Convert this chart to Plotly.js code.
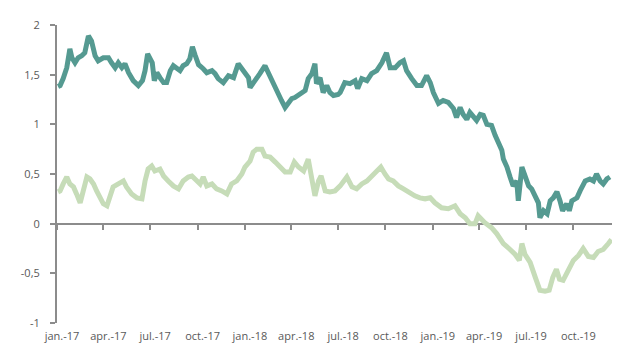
<!DOCTYPE html>
<html>
<head>
<meta charset="utf-8">
<script src="https://cdn.plot.ly/plotly-3.0.1.min.js"></script>
<style>
  html, body { margin: 0; padding: 0; background: #fff; }
  #chart { width: 617px; height: 347px; }
</style>
</head>
<body>
<div id="chart"></div>
<script>
// Upper series (dark teal)
const upperDates = [
  '2017-01-03','2017-01-07','2017-01-13','2017-01-20','2017-01-26','2017-01-30','2017-02-05','2017-02-11',
  '2017-02-18','2017-02-24','2017-03-03','2017-03-09','2017-03-16','2017-03-22','2017-04-01','2017-04-11',
  '2017-04-17','2017-04-24','2017-04-30','2017-05-07','2017-05-13','2017-05-20','2017-05-29','2017-06-08',
  '2017-06-16','2017-06-21','2017-06-26','2017-07-01','2017-07-05','2017-07-09','2017-07-14','2017-07-20',
  '2017-07-27','2017-08-02','2017-08-09','2017-08-15','2017-08-22','2017-08-28','2017-09-03','2017-09-10',
  '2017-09-16','2017-09-21','2017-09-26','2017-10-03','2017-10-12','2017-10-19','2017-10-29','2017-11-04',
  '2017-11-10','2017-11-20','2017-11-30','2017-12-10','2017-12-19','2017-12-26','2018-01-01','2018-01-08',
  '2018-01-11','2018-01-17','2018-01-24','2018-01-30','2018-02-09','2018-02-15','2018-02-25','2018-03-07',
  '2018-03-13','2018-03-20','2018-03-26','2018-04-02','2018-04-08','2018-04-15','2018-04-21','2018-04-28',
  '2018-05-04','2018-05-11','2018-05-17','2018-05-20','2018-05-27','2018-06-02','2018-06-09','2018-06-15',
  '2018-06-22','2018-07-01','2018-07-05','2018-07-14','2018-07-24','2018-08-03','2018-08-08','2018-08-16',
  '2018-08-26','2018-09-04','2018-09-14','2018-09-24','2018-10-03','2018-10-10','2018-10-20','2018-10-29',
  '2018-11-05','2018-11-11','2018-11-21','2018-12-01','2018-12-10','2018-12-20','2018-12-27','2019-01-02',
  '2019-01-12','2019-01-21','2019-01-31','2019-02-10','2019-02-16','2019-02-23','2019-03-01','2019-03-08',
  '2019-03-14','2019-03-21','2019-03-27','2019-04-03','2019-04-09','2019-04-16','2019-04-25','2019-05-02',
  '2019-05-08','2019-05-15','2019-05-18','2019-05-25','2019-05-31','2019-06-06','2019-06-13','2019-06-16',
  '2019-06-23','2019-06-29','2019-07-06','2019-07-12','2019-07-19','2019-07-25','2019-07-28','2019-08-04',
  '2019-08-11','2019-08-17','2019-08-23','2019-08-30','2019-09-05','2019-09-10','2019-09-18','2019-09-23',
  '2019-09-28','2019-10-08','2019-10-14','2019-10-24','2019-11-02','2019-11-09','2019-11-15','2019-11-22',
  '2019-11-28','2019-12-05','2019-12-11'
];
const upperValues = [
  1.38, 1.39, 1.46, 1.57, 1.76, 1.67, 1.62, 1.67,
  1.69, 1.72, 1.89, 1.84, 1.69, 1.64, 1.67, 1.67,
  1.62, 1.57, 1.62, 1.57, 1.61, 1.52, 1.44, 1.39,
  1.44, 1.54, 1.71, 1.67, 1.62, 1.44, 1.52, 1.47,
  1.42, 1.42, 1.54, 1.59, 1.57, 1.54, 1.59, 1.61,
  1.66, 1.78, 1.70, 1.60, 1.56, 1.52, 1.54, 1.51,
  1.46, 1.42, 1.49, 1.47, 1.61, 1.56, 1.51, 1.47,
  1.37, 1.41, 1.47, 1.51, 1.59, 1.52, 1.42, 1.31,
  1.24, 1.17, 1.22, 1.26, 1.27, 1.29, 1.31, 1.34,
  1.46, 1.51, 1.61, 1.41, 1.47, 1.32, 1.39, 1.32,
  1.29, 1.30, 1.32, 1.42, 1.41, 1.44, 1.36, 1.46,
  1.44, 1.51, 1.54, 1.62, 1.72, 1.57, 1.57, 1.62,
  1.64, 1.54, 1.46, 1.39, 1.39, 1.49, 1.42, 1.32,
  1.21, 1.24, 1.22, 1.16, 1.07, 1.17, 1.10, 1.05,
  1.12, 1.07, 1.04, 1.10, 1.09, 1.00, 0.99, 0.89,
  0.82, 0.74, 0.65, 0.57, 0.47, 0.38, 0.43, 0.23,
  0.57, 0.47, 0.38, 0.35, 0.26, 0.21, 0.06, 0.13,
  0.10, 0.23, 0.26, 0.32, 0.23, 0.13, 0.20, 0.13,
  0.23, 0.26, 0.33, 0.43, 0.45, 0.43, 0.50, 0.43,
  0.40, 0.45, 0.47
];

// Lower series (light green)
const lowerDates = [
  '2017-01-03','2017-01-07','2017-01-13','2017-01-20','2017-01-26','2017-02-02','2017-02-08','2017-02-15',
  '2017-02-21','2017-02-28','2017-03-06','2017-03-13','2017-03-19','2017-03-26','2017-04-01','2017-04-08',
  '2017-04-14','2017-04-20','2017-04-30','2017-05-10','2017-05-16','2017-05-26','2017-06-05','2017-06-15',
  '2017-06-21','2017-06-27','2017-07-04','2017-07-10','2017-07-20','2017-07-27','2017-08-05','2017-08-15',
  '2017-08-25','2017-09-03','2017-09-13','2017-09-20','2017-09-26','2017-10-06','2017-10-12','2017-10-19',
  '2017-10-29','2017-11-07','2017-11-17','2017-11-27','2017-12-06','2017-12-16','2017-12-26','2018-01-01',
  '2018-01-11','2018-01-17','2018-01-24','2018-02-03','2018-02-09','2018-02-19','2018-03-01','2018-03-10',
  '2018-03-20','2018-03-30','2018-04-07','2018-04-15','2018-04-25','2018-05-04','2018-05-11','2018-05-17',
  '2018-05-24','2018-05-29','2018-06-06','2018-06-15','2018-06-25','2018-07-05','2018-07-18','2018-07-28',
  '2018-08-06','2018-08-16','2018-08-26','2018-09-04','2018-09-14','2018-09-22','2018-09-30','2018-10-07',
  '2018-10-16','2018-10-26','2018-11-05','2018-11-14','2018-11-27','2018-12-07','2018-12-17','2018-12-27',
  '2019-01-05','2019-01-18','2019-01-31','2019-02-13','2019-02-23','2019-03-05','2019-03-14','2019-03-24',
  '2019-03-30','2019-04-12','2019-04-25','2019-05-05','2019-05-18','2019-05-31','2019-06-10','2019-06-18',
  '2019-06-23','2019-06-29','2019-07-09','2019-07-19','2019-07-28','2019-08-07','2019-08-15','2019-08-22',
  '2019-08-29','2019-09-04','2019-09-11','2019-09-21','2019-10-01','2019-10-11','2019-10-20','2019-10-30',
  '2019-11-09','2019-11-18','2019-11-28','2019-12-08','2019-12-14'
];
const lowerValues = [
  0.32, 0.33, 0.40, 0.47, 0.40, 0.37, 0.30, 0.21,
  0.33, 0.47, 0.45, 0.40, 0.33, 0.26, 0.20, 0.18,
  0.30, 0.37, 0.40, 0.43, 0.37, 0.30, 0.26, 0.25,
  0.43, 0.55, 0.58, 0.53, 0.55, 0.48, 0.43, 0.38,
  0.35, 0.43, 0.47, 0.48, 0.45, 0.40, 0.47, 0.38,
  0.40, 0.35, 0.33, 0.30, 0.40, 0.43, 0.50, 0.57,
  0.63, 0.72, 0.75, 0.75, 0.68, 0.67, 0.62, 0.57,
  0.52, 0.52, 0.62, 0.57, 0.53, 0.65, 0.43, 0.28,
  0.43, 0.48, 0.33, 0.32, 0.33, 0.38, 0.47, 0.37,
  0.35, 0.40, 0.43, 0.48, 0.53, 0.57, 0.50, 0.45,
  0.43, 0.38, 0.35, 0.32, 0.28, 0.26, 0.25, 0.26,
  0.21, 0.16, 0.15, 0.18, 0.10, 0.06, 0.00, 0.00,
  0.08, 0.01, -0.04, -0.10, -0.20, -0.26, -0.31, -0.37,
  -0.20, -0.31, -0.39, -0.54, -0.67, -0.68, -0.67, -0.54,
  -0.46, -0.56, -0.57, -0.47, -0.37, -0.32, -0.25, -0.33,
  -0.34, -0.28, -0.26, -0.20, -0.16
];

// Axis ticks and labels
const monthTicks = [
  '2017-01-01','2017-04-01','2017-07-01','2017-10-01',
  '2018-01-01','2018-04-01','2018-07-01','2018-10-01',
  '2019-01-01','2019-04-01','2019-07-01','2019-10-01'
];
const monthLabels = [
  'jan.-17','apr.-17','jul.-17','oct.-17',
  'jan.-18','apr.-18','jul.-18','oct.-18',
  'jan.-19','apr.-19','jul.-19','oct.-19'
];
const yTicks = [-1, -0.5, 0, 0.5, 1, 1.5, 2];
const yLabels = ['-1', '-0,5', '0', '0,5', '1', '1,5', '2'];

const xRange = ['2017-01-01', '2019-12-15'];
const axisGrey = '#8c8c8c';
const textGrey = '#595959';

const traces = [
  {
    type: 'scatter', mode: 'lines',
    x: upperDates, y: upperValues,
    xaxis: 'x', yaxis: 'y',
    line: { color: '#559a91', width: 5, shape: 'linear' },
    hoverinfo: 'skip'
  },
  {
    type: 'scatter', mode: 'lines',
    x: lowerDates, y: lowerValues,
    xaxis: 'x2', yaxis: 'y',
    line: { color: '#c6dcb8', width: 5, shape: 'linear' },
    hoverinfo: 'skip'
  }
];

const layout = {
  width: 617, height: 347,
  margin: { l: 57, r: 5, t: 25, b: 24 },
  paper_bgcolor: '#ffffff',
  plot_bgcolor: '#ffffff',
  showlegend: false,
  font: { family: '"Open Sans", "Noto Sans", sans-serif', size: 11, color: textGrey },
  // bottom axis: month labels only
  xaxis: {
    type: 'date', range: xRange,
    showline: false, showgrid: false, zeroline: false,
    ticks: '', tickmode: 'array', tickvals: monthTicks, ticktext: monthLabels,
    ticklabelshift: 5, ticklabelstandoff: 5,
    tickfont: { size: 11, color: textGrey }
  },
  // axis line crossing at zero, with month ticks
  xaxis2: {
    type: 'date', range: xRange, overlaying: 'x',
    anchor: 'free', position: 1 / 3, side: 'bottom',
    showline: true, linecolor: axisGrey, linewidth: 2,
    showgrid: false, zeroline: false,
    ticks: 'outside', ticklen: 5, tickwidth: 2, tickcolor: axisGrey,
    tickmode: 'array', tickvals: monthTicks,
    showticklabels: false, layer: 'below traces'
  },
  yaxis: {
    range: [-1, 2],
    showline: true, linecolor: axisGrey, linewidth: 2,
    showgrid: false, zeroline: false,
    ticks: 'outside', ticklen: 5, tickwidth: 2, tickcolor: axisGrey,
    tickmode: 'array', tickvals: yTicks, ticktext: yLabels,
    ticklabelstandoff: 8,
    tickfont: { size: 11, color: textGrey }
  }
};

Plotly.newPlot('chart', traces, layout, { staticPlot: true, displayModeBar: false });
</script>
</body>
</html>
